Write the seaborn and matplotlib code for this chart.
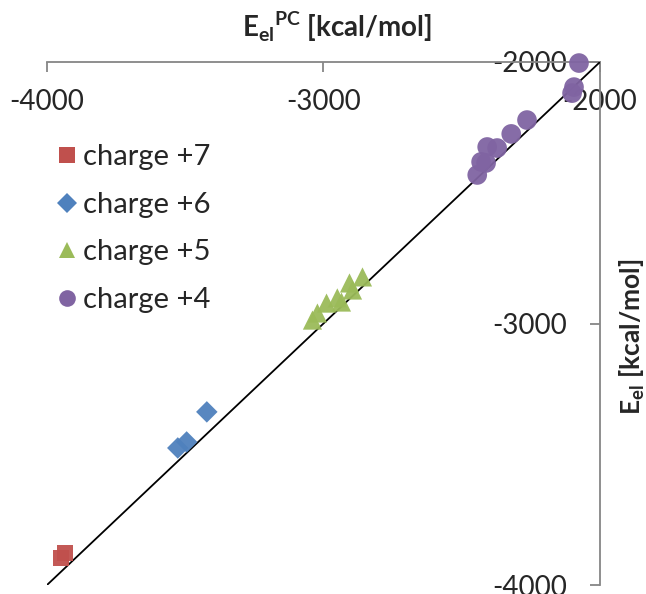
import matplotlib
matplotlib.use("Agg")
import matplotlib.pyplot as plt
import seaborn as sns
import pandas as pd
from matplotlib.lines import Line2D

# ---- data ----
labels = ["charge +7", "charge +6", "charge +5", "charge +4"]
x_c7 = [-3949, -3935]
y_c7 = [-3897, -3878]
x_c6 = [-3422, -3527, -3495]
y_c6 = [-3338, -3476, -3453]
x_c5 = [-3040, -3022, -2989, -2950, -2935, -2906, -2895, -2859]
y_c5 = [-2987, -2960, -2922, -2902, -2918, -2845, -2872, -2822]
x_c4 = [-2076, -2094, -2101, -2264, -2321, -2408, -2372, -2430, -2412, -2444]
y_c4 = [-2004, -2096, -2119, -2222, -2275, -2325, -2329, -2382, -2386, -2432]
x_ticks = [-4000, -3000, -2000]
y_ticks = [-4000, -3000, -2000]
x_ticklabels = ["-4000", "-3000", "-2000"]
y_ticklabels = ["-4000", "-3000", "-2000"]

colors = ["#C0504D", "#4F81BD", "#9BBB59", "#8064A2"]
markers = ["s", "D", "^", "o"]
sizes = [140, 120, 190, 200]

sns.set_style("white")
plt.rcParams["font.family"] = ["Lato", "DejaVu Sans"]
plt.rcParams["axes.unicode_minus"] = False
plt.rcParams["mathtext.fontset"] = "custom"
plt.rcParams["mathtext.rm"] = "Lato:bold"
plt.rcParams["mathtext.bf"] = "Lato:bold"

fig = plt.figure(figsize=(6.46, 5.94), dpi=100)
ax = fig.add_axes([47 / 646, 9 / 594, 553 / 646, 523 / 594])

xs = [x_c7, x_c6, x_c5, x_c4]
ys = [y_c7, y_c6, y_c5, y_c4]
handles = []
for xv, yv, lab, c, m, s in zip(xs, ys, labels, colors, markers, sizes):
    df = pd.DataFrame({"x": xv, "y": yv})
    sns.scatterplot(data=df, x="x", y="y", ax=ax, color=c, marker=m, s=s,
                    edgecolor="none", linewidth=0, alpha=0.95, zorder=4, clip_on=False)
    handles.append(Line2D([], [], marker=m, color=c, linestyle="none",
                          markersize=12 if m != "D" else 10, markeredgewidth=0))

ax.axline((x_ticks[0], y_ticks[0]), (x_ticks[-1], y_ticks[-1]), color="black", lw=1.3, zorder=3)

ax.set_xlim(-4000, -2000)
ax.set_ylim(-4000, -2000)

for side in ["left", "bottom"]:
    ax.spines[side].set_visible(False)
for side in ["top", "right"]:
    ax.spines[side].set_color("#868686")
    ax.spines[side].set_linewidth(1.3)

ax.xaxis.tick_top()
ax.yaxis.tick_right()
ax.set_xticks(x_ticks)
ax.set_xticklabels(x_ticklabels)
ax.set_yticks(y_ticks)
ax.set_yticklabels(y_ticklabels)
ax.tick_params(axis="x", direction="in", length=7, width=1.3, color="#868686",
               labelsize=20, pad=-38)
ax.tick_params(axis="y", direction="in", length=7, width=1.3, color="#868686",
               labelsize=20, pad=-24)
for lbl in ax.get_yticklabels():
    lbl.set_horizontalalignment("right")

ax.xaxis.set_label_position("top")
ax.set_xlabel(r"E$_{\mathrm{el}}$${}^{\mathrm{PC}}$ [kcal/mol]", fontsize=20,
              fontweight="bold")
ax.xaxis.set_label_coords(0.524, 1.048)
ax.yaxis.set_label_position("right")
ax.set_ylabel(r"E$_{\mathrm{el}}$ [kcal/mol]", fontsize=19,
              fontweight="bold")
ax.yaxis.set_label_coords(1.031, 0.474)

ax.legend(handles, labels, loc="upper left", bbox_to_anchor=(0.0, 0.865),
          frameon=False, fontsize=21, labelspacing=0.74, handletextpad=0.25,
          handlelength=0.6, borderaxespad=0.0)

fig.savefig("out.png", dpi=100)
